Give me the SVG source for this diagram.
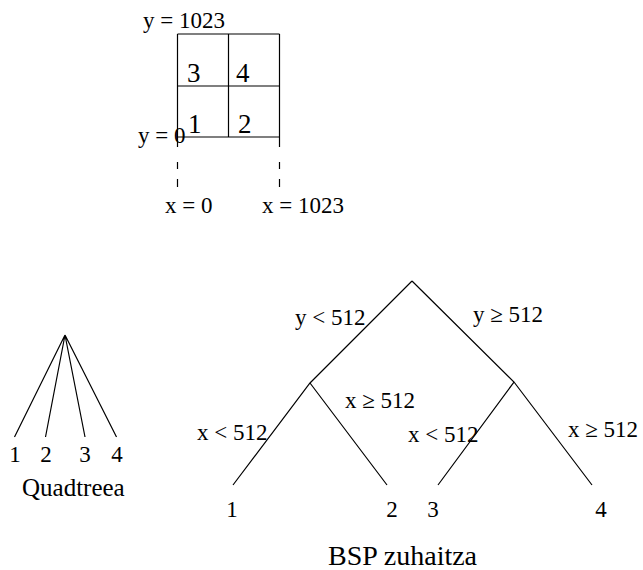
<svg xmlns="http://www.w3.org/2000/svg" width="643" height="570" viewBox="0 0 643 570">
<style>
.ln{stroke:#000;stroke-width:1.2;fill:none}
.t{font-family:"Liberation Serif","Times New Roman",serif;font-size:23px;fill:#000}
.c{font-family:"Liberation Serif","Times New Roman",serif;font-size:27px;fill:#000}
.ttl{font-family:"Liberation Serif","Times New Roman",serif;fill:#000}
</style>
<rect width="643" height="570" fill="#fff"/>
<g id="grid">
<path class="ln" d="M177.5,34 H279.5 M177.5,86 H279.5 M177.5,137 H279.5 M177.5,34 V147 M228.5,34 V137 M279.5,34 V147"/>
<path class="ln" d="M177.5,162 V169 M177.5,179 V187 M279.5,162 V169 M279.5,179 V187"/>
<text class="t" x="143" y="28">y = 1023</text>
<text class="t" x="138" y="143">y = 0</text>
<text class="t" x="165" y="213">x = 0</text>
<text class="t" x="262" y="213">x = 1023</text>
<text class="c" x="187" y="82">3</text>
<text class="c" x="236" y="82">4</text>
<text class="c" x="188" y="133">1</text>
<text class="c" x="238" y="133">2</text>
</g>
<g id="connectors">
<path class="ln" d="M65,335 L14.5,437 M65,335 L45.5,437 M65,335 L85,437 M65,335 L116.5,437"/>
<path class="ln" d="M412,281 L310,383 L233,485 M310,383 L387,485 M412,281 L514,382 L438,485 M514,382 L592,485"/>
</g>
<g id="quadtree">
<text class="t" x="15" y="462" text-anchor="middle">1</text>
<text class="t" x="46" y="462" text-anchor="middle">2</text>
<text class="t" x="85" y="462" text-anchor="middle">3</text>
<text class="t" x="117" y="462" text-anchor="middle">4</text>
<text class="ttl" x="22" y="496" font-size="25">Quadtreea</text>
</g>
<g id="bsp">
<text class="t" x="295" y="325">y &lt; 512</text>
<text class="t" x="473" y="322">y ≥ 512</text>
<text class="t" x="345" y="408">x ≥ 512</text>
<text class="t" x="197" y="440">x &lt; 512</text>
<text class="t" x="408" y="442">x &lt; 512</text>
<text class="t" x="568" y="437">x ≥ 512</text>
<text class="t" x="232" y="517" text-anchor="middle">1</text>
<text class="t" x="392" y="517" text-anchor="middle">2</text>
<text class="t" x="433" y="517" text-anchor="middle">3</text>
<text class="t" x="601" y="517" text-anchor="middle">4</text>
<text class="ttl" x="328" y="565" font-size="28">BSP zuhaitza</text>
</g>
</svg>
